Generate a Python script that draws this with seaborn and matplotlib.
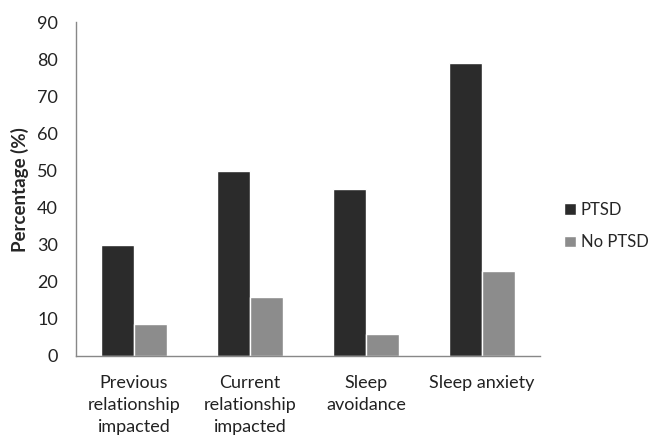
import matplotlib
matplotlib.use("Agg")
import matplotlib.pyplot as plt
import pandas as pd
import seaborn as sns

categories = ["Previous\nrelationship\nimpacted", "Current\nrelationship\nimpacted",
              "Sleep\navoidance", "Sleep anxiety"]
ptsd = [30, 50, 45, 79]
no_ptsd = [8.5, 16, 5.8, 23]
groups = ["PTSD", "No PTSD"]

data = pd.DataFrame({
    "category": categories * 2,
    "group": [groups[0]] * 4 + [groups[1]] * 4,
    "value": ptsd + no_ptsd,
})

sns.set_style("white")
plt.rcParams["font.family"] = ["Lato", "DejaVu Sans"]

fig = plt.figure(figsize=(6.55, 4.45), dpi=100)
ax = fig.add_axes([0.116, 0.2, 0.708, 0.75])

sns.barplot(data=data, x="category", y="value", hue="group",
            palette=["#2b2b2b", "#8c8c8c"], width=0.57, ax=ax)

ax.set_ylim(0, 90)
ax.set_yticks(range(0, 91, 10))
ax.set_xlim(-0.5, 3.5)
ax.set_xlabel("")
ax.set_ylabel("Percentage (%)", fontsize=13.5, fontweight="bold", labelpad=6)
ax.tick_params(axis="both", length=0, colors="#222222")
ax.tick_params(axis="y", labelsize=13, pad=13)
ax.tick_params(axis="x", labelsize=13, pad=14)
for lab in ax.get_xticklabels():
    lab.set_linespacing(1.45)
for s in ["top", "right"]:
    ax.spines[s].set_visible(False)
for s in ["left", "bottom"]:
    ax.spines[s].set_color("#888888")
    ax.spines[s].set_linewidth(1)

ax.legend(title=None, frameon=False, loc="center left",
          bbox_to_anchor=(1.02, 0.39), fontsize=12,
          handlelength=0.7, handleheight=0.7, labelspacing=1.0,
          handletextpad=0.3)

fig.savefig("out.png", dpi=100)
